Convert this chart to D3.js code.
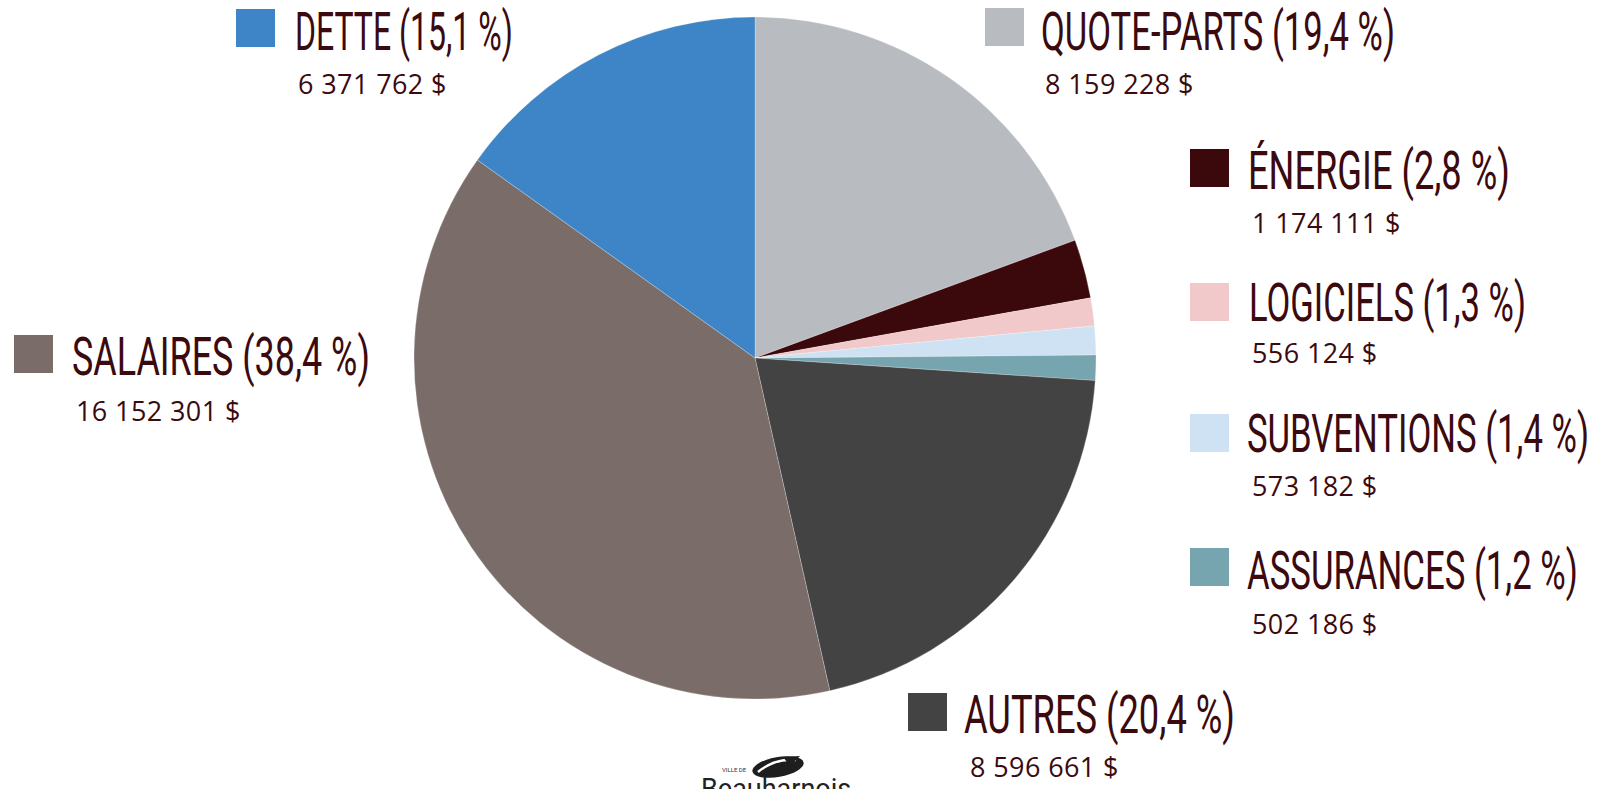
<!DOCTYPE html>
<html lang="fr">

<head>
  <meta charset="UTF-8">
  <script src="https://cdn.jsdelivr.net/npm/d3@7/dist/d3.min.js"></script>
  <title>Dépenses</title>
  <style>
    body {
      margin: 0;
      background: #fff;
    }

    .label {
      font-family: Roboto, sans-serif;
      font-size: 54px;
      fill: #3b0a0f;
    }

    .amount {
      font-family: "Open Sans", sans-serif;
      font-size: 27px;
      letter-spacing: 0.4px;
      fill: #3b0a0f;
    }
  </style>
</head>

<body>

  <script>
    // data, clockwise from 12 o'clock
    const categories = ["QUOTE-PARTS", "ÉNERGIE", "LOGICIELS", "SUBVENTIONS", "ASSURANCES", "AUTRES", "SALAIRES", "DETTE"];
    const amounts = [8159228, 1174111, 556124, 573182, 502186, 8596661, 16152301, 6371762];
    const percents = [19.4, 2.8, 1.3, 1.4, 1.2, 20.4, 38.4, 15.1];
    const colors = ["#b8bcc0", "#3b080b", "#f2c9ca", "#cfe2f3", "#76a5af", "#434343", "#7a6d69", "#3d85c6"];

    // legend layout: [square x, square y, label x, label baseline, amount x, amount baseline, label width]
    const legendPos = [
      [985, 8, 1041, 50, 1045, 94, 354],
      [1190, 149, 1248, 189, 1252, 233, 262],
      [1190, 283, 1249, 321, 1252, 363, 277],
      [1190, 414, 1247, 452, 1252, 496, 342],
      [1190, 548, 1247, 589, 1252, 634, 331],
      [908, 693, 964, 733, 970, 777, 271],
      [14, 335, 72, 375, 76, 421, 298],
      [236, 9, 295, 50, 298, 94, 218]
    ];

    const W = 1604, H = 789;
    const cx = 755, cy = 358, R = 341;

    const svg = d3.select('body').append('svg')
      .attr('width', W)
      .attr('height', H)

    const pie = d3.pie().sort(null).value((d, i) => amounts[i]);
    const arc = d3.arc().innerRadius(0).outerRadius(R);
    const arcs = pie(categories);

    svg.append('g').attr('transform', `translate(${cx},${cy})`)
      .selectAll('path').data(arcs).enter()
      .append('path')
      .attr('d', arc)
      .attr('fill', (d, i) => colors[i])
      .attr('stroke', '#ffffff')
      .attr('stroke-opacity', 0.4)
      .attr('stroke-width', 0.6);

    const fr = d3.formatLocale({ decimal: ",", thousands: "\u00a0", grouping: [3], currency: ["", " $"] });
    const fmtAmount = fr.format("$,.0f");
    const fmtPct = fr.format(".1f");

    const leg = svg.selectAll('g.legend').data(categories).enter()
      .append('g').attr('class', 'legend');

    leg.append('rect')
      .attr('x', (d, i) => legendPos[i][0])
      .attr('y', (d, i) => legendPos[i][1])
      .attr('width', 39)
      .attr('height', 38)
      .attr('fill', (d, i) => colors[i]);

    // condensed look: squeeze the label horizontally to the measured width
    leg.append('text')
      .attr('class', 'label')
      .text((d, i) => `${d} (${fmtPct(percents[i])} %)`)
      .attr('transform', function (d, i) {
        const p = legendPos[i];
        const k = p[6] / this.getComputedTextLength();
        return `translate(${p[2]},${p[3]}) scale(${k},1)`;
      });

    leg.append('text')
      .attr('class', 'amount')
      .attr('x', (d, i) => legendPos[i][4])
      .attr('y', (d, i) => legendPos[i][5])
      .text((d, i) => fmtAmount(amounts[i]));

    // logo (cut off at the bottom edge, as in the original)
    const logo = svg.append('g').attr('class', 'logo');
    logo.append('ellipse')
      .attr('cx', 778).attr('cy', 767).attr('rx', 26).attr('ry', 10)
      .attr('transform', 'rotate(-10,778,767)')
      .attr('fill', '#1e1e1e');
    logo.append('path')
      .attr('d', 'M758,772 Q775,758 796,760')
      .attr('fill', 'none').attr('stroke', '#fff').attr('stroke-width', 2.5);
    logo.append('path')
      .attr('d', 'M783,757 L800,756 L790,766 Z')
      .attr('fill', '#1e1e1e');
    logo.append('text')
      .attr('x', 722).attr('y', 772)
      .style('font-family', 'Roboto, sans-serif')
      .style('font-size', '6px')
      .style('fill', '#333')
      .text('VILLE DE');
    logo.append('text')
      .attr('x', 701).attr('y', 798)
      .style('font-family', 'Roboto, sans-serif')
      .style('font-size', '27px')
      .style('fill', '#222')
      .text('Beauharnois');
  </script>
</body>

</html>
